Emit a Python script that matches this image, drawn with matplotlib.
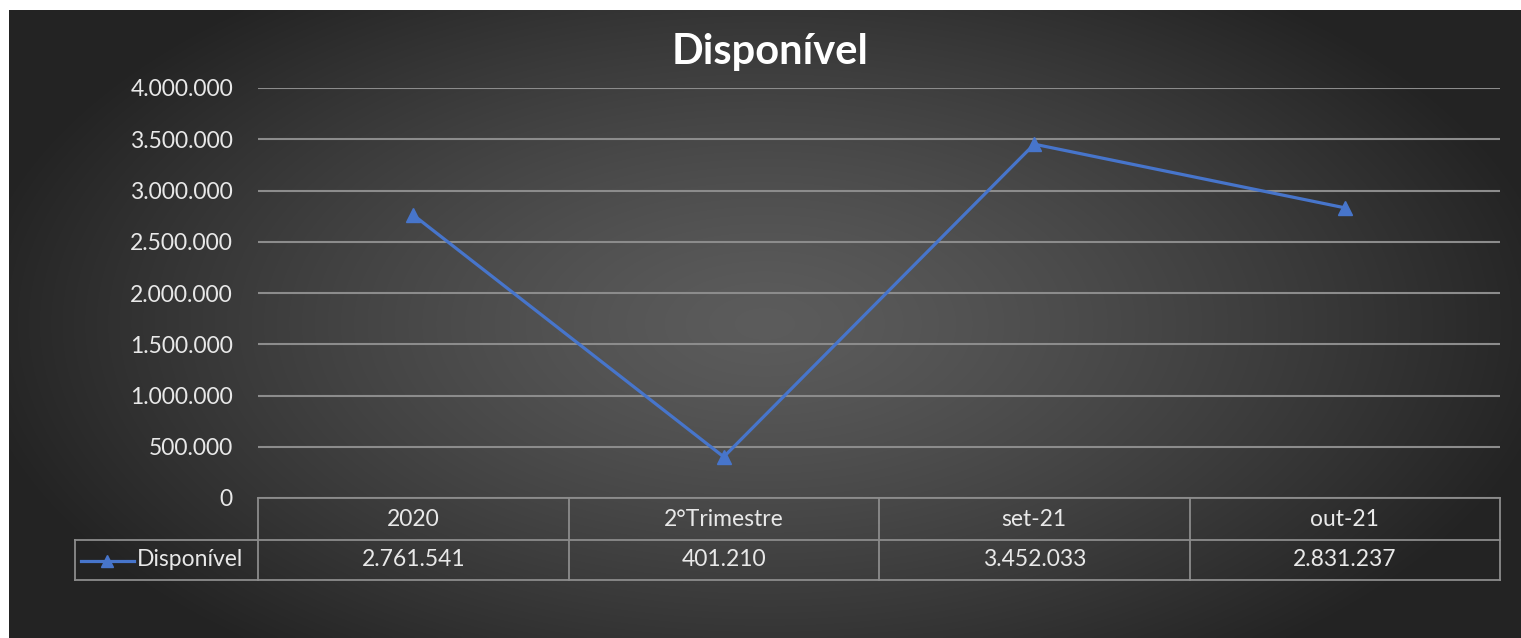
import numpy as np
import matplotlib.pyplot as plt
import matplotlib.transforms as mtransforms

categorias = ['2020', '2°Trimestre', 'set-21', 'out-21']
disponivel = [2761541, 401210, 3452033, 2831237]
rotulos_valor = ['2.761.541', '401.210', '3.452.033', '2.831.237']
y_ticks = [0, 500000, 1000000, 1500000, 2000000, 2500000, 3000000, 3500000, 4000000]
y_labels = ['0', '500.000', '1.000.000', '1.500.000', '2.000.000', '2.500.000',
            '3.000.000', '3.500.000', '4.000.000']

W, H = 1521, 638
AZUL = '#4775CB'
CINZA = '#8c8c8c'
TEXTO = '#e8e8e8'
FONTE = 'Lato'
TAM = 16.5


def fx(px):
    return px / W


def fy(py):
    return 1 - py / H


fig = plt.figure(figsize=(W / 100, H / 100), dpi=100)
fig.patch.set_facecolor('white')

# fundo com gradiente radial
bg = fig.add_axes([fx(9), 0, 1 - fx(9), fy(10)])
xx, yy = np.meshgrid(np.linspace(-1, 1, 600), np.linspace(-1, 1, 300))
r = np.sqrt((xx * 0.95) ** 2 + (yy * 0.75) ** 2)
r = np.clip(r, 0, 1)
val = 0.36 - 0.22 * r ** 1.3
img = np.dstack([val, val, val])
bg.imshow(img, aspect='auto', extent=(0, 1, 0, 1), interpolation='bilinear')
bg.set_axis_off()

ax = fig.add_axes([fx(258), fy(498), fx(1500) - fx(258), fy(88) - fy(498)])
ax.set_facecolor('none')
x = np.arange(len(categorias))
ax.plot(x, disponivel, color=AZUL, lw=2.3, marker='^', ms=10, mec=AZUL, mfc=AZUL, zorder=3)
ax.set_xlim(-0.5, len(categorias) - 0.5)
ax.set_ylim(0, 4000000)
ax.set_yticks(y_ticks)
ax.set_yticklabels(y_labels, color=TEXTO, fontsize=TAM, fontfamily=FONTE)
ax.set_xticks([])
ax.tick_params(axis='y', length=0, pad=18)
ax.grid(axis='y', color=CINZA, lw=1.5)
for s in ax.spines.values():
    s.set_visible(False)

fig.text(fx(770), fy(52), 'Disponível', ha='center', va='center', color='white',
         fontsize=30, fontweight='bold', fontfamily=FONTE)

# tabela de dados
tr = mtransforms.blended_transform_factory(ax.transData, fig.transFigure)
x0, x1 = -0.5, len(categorias) - 0.5
for yp in [498, 540, 580]:
    ax.plot([x0, x1], [fy(yp), fy(yp)], color=CINZA, lw=1.3, transform=tr, clip_on=False)
ax.plot([fx(75), fx(258)], [fy(540), fy(540)], color=CINZA, lw=1.3,
        transform=fig.transFigure, clip_on=False)
ax.plot([fx(75), fx(258)], [fy(580), fy(580)], color=CINZA, lw=1.3,
        transform=fig.transFigure, clip_on=False)
ax.plot([fx(75), fx(75)], [fy(540), fy(580)], color=CINZA, lw=1.3,
        transform=fig.transFigure, clip_on=False)
for i in range(len(categorias) + 1):
    ax.plot([i - 0.5, i - 0.5], [fy(498), fy(580)], color=CINZA, lw=1.3,
            transform=tr, clip_on=False)
for i, (c, v) in enumerate(zip(categorias, rotulos_valor)):
    ax.text(i, fy(519), c, ha='center', va='center', color=TEXTO, fontsize=TAM,
            fontfamily=FONTE, transform=tr)
    ax.text(i, fy(560), v, ha='center', va='center', color=TEXTO, fontsize=TAM,
            fontfamily=FONTE, transform=tr)

# legenda na tabela
ax.plot([fx(81), fx(134)], [fy(561), fy(561)], color=AZUL, lw=2.3,
        transform=fig.transFigure, clip_on=False)
ax.plot([fx(107)], [fy(561)], marker='^', ms=9, color=AZUL,
        transform=fig.transFigure, clip_on=False)
fig.text(fx(137), fy(560), 'Disponível', ha='left', va='center', color=TEXTO,
         fontsize=TAM, fontfamily=FONTE)

fig.savefig('out.png', dpi=100)
